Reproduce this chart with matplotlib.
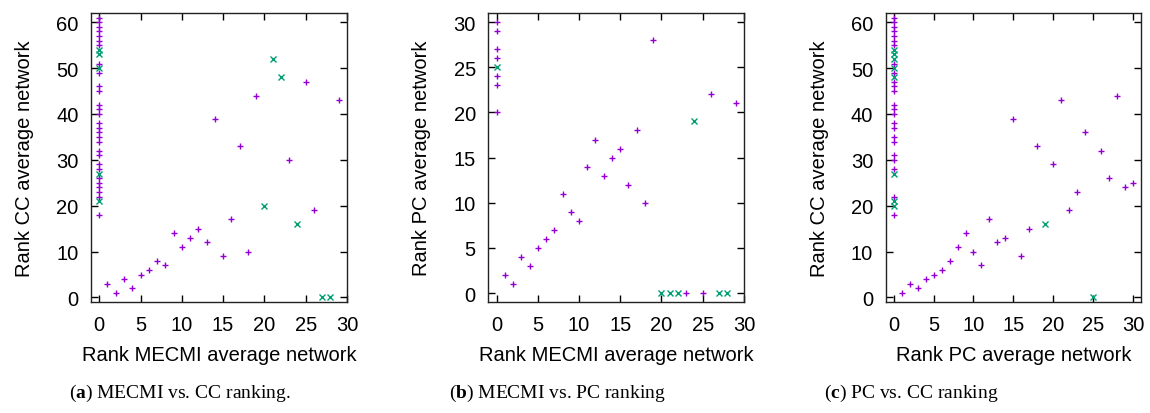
import matplotlib
matplotlib.use('Agg')
import matplotlib.pyplot as plt

plt.rcParams['font.family'] = ['Liberation Sans', 'DejaVu Sans']
plt.rcParams['mathtext.fontset'] = 'custom'
plt.rcParams['mathtext.rm'] = 'Liberation Serif'
plt.rcParams['mathtext.bf'] = 'Liberation Serif:bold'

PURPLE = '#9400D3'
GREEN = '#009E73'

# (a) MECMI vs CC
a_purple_x = [0] * 29 + [1, 2, 3, 4, 5, 6, 7, 8, 9, 10, 11, 12, 13, 14, 15, 16, 17, 18, 19, 23, 25, 26, 29]
a_purple_y = [61, 60, 59, 58, 57, 56, 55, 51, 49, 46, 45, 42, 41, 40, 38, 37, 36, 35, 34, 32, 31, 29, 28,
              26, 25, 24, 23, 22, 18,
              3, 1, 4, 2, 5, 6, 8, 7, 14, 11, 13, 15, 12, 39, 9, 17, 33, 10, 44, 30, 47, 19, 43]
a_green_x = [0, 0, 0, 0, 0, 20, 21, 22, 24, 27, 28]
a_green_y = [54, 53, 50, 27, 21, 20, 52, 48, 16, 0, 0]

# (b) MECMI vs PC
b_purple_x = [0] * 7 + [1, 2, 3, 4, 5, 6, 7, 8, 9, 10, 11, 12, 13, 14, 15, 16, 17, 18, 19, 23, 25, 26, 29]
b_purple_y = [30, 29, 27, 26, 24, 23, 20,
              2, 1, 4, 3, 5, 6, 7, 11, 9, 8, 14, 17, 13, 15, 16, 12, 18, 10, 28, 0, 0, 22, 21]
b_green_x = [0, 20, 21, 22, 24, 27, 28]
b_green_y = [25, 0, 0, 0, 19, 0, 0]

# (c) PC vs CC
c_purple_x = [0] * 24 + [1, 2, 3, 4, 5, 6, 7, 8, 9, 10, 11, 12, 13, 14, 15, 16, 17, 18, 20, 21, 22, 23,
                         24, 26, 27, 28, 29, 30]
c_purple_y = [61, 60, 59, 58, 57, 56, 55, 51, 49, 47, 46, 45, 42, 41, 40, 38, 37, 35, 34, 31, 30, 28, 22, 18,
              1, 3, 2, 4, 5, 6, 8, 11, 14, 10, 7, 17, 12, 13, 39, 9, 15, 33, 29, 43, 19, 23,
              36, 32, 26, 44, 24, 25]
c_green_x = [0, 0, 0, 0, 0, 0, 0, 0, 19, 25]
c_green_y = [54, 53, 52, 50, 48, 27, 21, 20, 16, 0]

panels = [
    dict(rect=[0.0791, 0.268, 0.2226, 0.698], px=a_purple_x, py=a_purple_y, gx=a_green_x, gy=a_green_y,
         xlim=(-1, 30), ylim=(-1, 62), yticks=range(0, 61, 10),
         xlabel='Rank MECMI average network', ylabel='Rank CC average network',
         cap=r'($\mathbf{a}$) MECMI vs. CC ranking.', capx=180),
    dict(rect=[0.4246, 0.268, 0.2223, 0.698], px=b_purple_x, py=b_purple_y, gx=b_green_x, gy=b_green_y,
         xlim=(-1, 30), ylim=(-1, 31), yticks=range(0, 31, 5),
         xlabel='Rank MECMI average network', ylabel='Rank PC average network',
         cap=r'($\mathbf{b}$) MECMI vs. PC ranking', capx=557),
    dict(rect=[0.7702, 0.268, 0.2220, 0.698], px=c_purple_x, py=c_purple_y, gx=c_green_x, gy=c_green_y,
         xlim=(-1, 31), ylim=(-1, 62), yticks=range(0, 61, 10),
         xlabel='Rank PC average network', ylabel='Rank CC average network',
         cap=r'($\mathbf{c}$) PC vs. CC ranking', capx=911),
]

fig = plt.figure(figsize=(11.5, 4.14), dpi=100)

for p in panels:
    ax = fig.add_axes(p['rect'])
    ax.plot(p['px'], p['py'], '+', color=PURPLE, ms=5.0, mew=1.0, ls='none')
    ax.plot(p['gx'], p['gy'], 'x', color=GREEN, ms=4.0, mew=1.0, ls='none')
    ax.set_xlim(*p['xlim'])
    ax.set_ylim(*p['ylim'])
    ax.set_xticks(range(0, 31, 5))
    ax.set_yticks(list(p['yticks']))
    ax.tick_params(direction='in', top=True, right=True, length=5, width=1,
                   labelsize=14.5)
    ax.tick_params(axis='y', pad=9)
    ax.tick_params(axis='x', pad=9)
    for s in ax.spines.values():
        s.set_linewidth(1.0)
        s.set_color('#222222')
    ax.set_xlabel(p['xlabel'], fontsize=14.5, labelpad=8)
    ax.set_ylabel(p['ylabel'], fontsize=14.5, labelpad=16)
    fig.text(p['capx'] / 1150, 0.05, p['cap'], ha='center', va='center',
             fontsize=14, family='Liberation Serif')

fig.savefig('out.png', dpi=100)
